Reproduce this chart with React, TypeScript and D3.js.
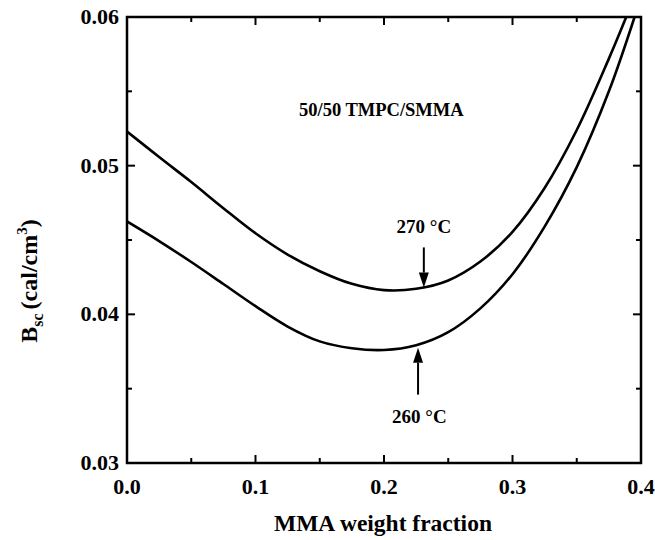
import React from "react";
import * as d3 from "d3";

const xFrac = [0, 0.025, 0.05, 0.075, 0.1, 0.125, 0.15, 0.175, 0.2, 0.225, 0.25, 0.275, 0.3, 0.325, 0.35, 0.375, 0.3885];
const b270 = [0.0523, 0.05058, 0.0489, 0.04714, 0.04545, 0.04402, 0.04290, 0.04205, 0.04163, 0.04172, 0.04228, 0.04355, 0.04555, 0.0485, 0.0524, 0.0572, 0.0600];
const xFracLow = [0, 0.025, 0.05, 0.075, 0.1, 0.125, 0.15, 0.175, 0.2, 0.225, 0.25, 0.275, 0.3, 0.325, 0.35, 0.375, 0.395];
const b260 = [0.04625, 0.04493, 0.04352, 0.04204, 0.04055, 0.03918, 0.03818, 0.03772, 0.0376, 0.03792, 0.03880, 0.0404, 0.0427, 0.0459, 0.0499, 0.0550, 0.0600];
const xTicks = [0, 0.1, 0.2, 0.3, 0.4];
const xMinor = [0.05, 0.15, 0.25, 0.35];
const yTicks = [0.03, 0.04, 0.05, 0.06];
const yMinor = [0.035, 0.045, 0.055];
const annotation = "50/50 TMPC/SMMA";
const arrowLabels = ["270 °C", "260 °C"];

const W = 655, H = 540;
const L = 127, R = 641, T = 17, B = 463;
const FONT = "'Liberation Serif', 'Times New Roman', serif";

export default function App() {
  const x = d3.scaleLinear().domain([0, 0.4]).range([L, R]);
  const y = d3.scaleLinear().domain([0.03, 0.06]).range([B, T]);
  const line = d3.line<[number, number]>().x(d => x(d[0])).y(d => y(d[1])).curve(d3.curveCatmullRom.alpha(0.5));
  const p270 = line(xFrac.map((v, i) => [v, b270[i]]) as [number, number][]) || "";
  const p260 = line(xFracLow.map((v, i) => [v, b260[i]]) as [number, number][]) || "";

  const arrow = (ax: number, tail: number, tip: number) => {
    const xt = x(ax), y1 = y(tail), y2 = y(tip);
    const dir = y2 > y1 ? 1 : -1;
    const hl = 15, hw = 5;
    return (
      <g>
        <line x1={xt} y1={y1} x2={xt} y2={y2 - dir * hl} stroke="#000" strokeWidth={2} />
        <path d={`M${xt},${y2} L${xt - hw},${y2 - dir * hl} L${xt + hw},${y2 - dir * hl} Z`} fill="#000" />
      </g>
    );
  };

  return (
    <svg width={W} height={H} style={{ position: "absolute", left: 0, top: 0, background: "#fff" }} fontFamily={FONT}>
      <rect x={0} y={0} width={W} height={H} fill="#fff" />
      <defs>
        <clipPath id="plotclip"><rect x={L} y={T} width={R - L} height={B - T} /></clipPath>
      </defs>
      {xTicks.map(t => (
        <g key={"xt" + t}>
          <line x1={x(t)} x2={x(t)} y1={B} y2={B - 8} stroke="#000" strokeWidth={2} />
          <line x1={x(t)} x2={x(t)} y1={T} y2={T + 8} stroke="#000" strokeWidth={2} />
          <text x={x(t)} y={494} textAnchor="middle" fontSize={22} fontWeight="bold">{d3.format(".1f")(t)}</text>
        </g>
      ))}
      {xMinor.map(t => (
        <g key={"xm" + t}>
          <line x1={x(t)} x2={x(t)} y1={B} y2={B - 5} stroke="#000" strokeWidth={2} />
          <line x1={x(t)} x2={x(t)} y1={T} y2={T + 5} stroke="#000" strokeWidth={2} />
        </g>
      ))}
      {yTicks.map(t => (
        <g key={"yt" + t}>
          <line x1={L} x2={L + 8} y1={y(t)} y2={y(t)} stroke="#000" strokeWidth={2} />
          <line x1={R} x2={R - 8} y1={y(t)} y2={y(t)} stroke="#000" strokeWidth={2} />
          <text x={119} y={y(t) + 7} textAnchor="end" fontSize={22} fontWeight="bold">{d3.format(".2f")(t)}</text>
        </g>
      ))}
      {yMinor.map(t => (
        <g key={"ym" + t}>
          <line x1={L} x2={L + 5} y1={y(t)} y2={y(t)} stroke="#000" strokeWidth={2} />
          <line x1={R} x2={R - 5} y1={y(t)} y2={y(t)} stroke="#000" strokeWidth={2} />
        </g>
      ))}
      <rect x={L} y={T} width={R - L} height={B - T} fill="none" stroke="#000" strokeWidth={2.5} />
      <g clipPath="url(#plotclip)">
        <path d={p270} fill="none" stroke="#000" strokeWidth={2.6} />
        <path d={p260} fill="none" stroke="#000" strokeWidth={2.6} />
      </g>
      {arrow(0.231, 0.0445, 0.0418)}
      {arrow(0.2265, 0.0346, 0.03775)}
      <text x={x(0.231)} y={y(0.0455)} textAnchor="middle" fontSize={19} fontWeight="bold">{arrowLabels[0]}</text>
      <text x={x(0.2275)} y={y(0.0327)} textAnchor="middle" fontSize={19} fontWeight="bold">{arrowLabels[1]}</text>
      <text x={299} y={116} fontSize={18.5} fontWeight="bold">{annotation}</text>
      <text x={383} y={531} textAnchor="middle" fontSize={23.5} fontWeight="bold">MMA weight fraction</text>
      <text transform={`translate(37, 281) rotate(-90)`} textAnchor="middle" fontSize={24} fontWeight="bold">
        <tspan>B</tspan>
        <tspan fontSize={16} dy={6}>sc</tspan>
        <tspan dy={-6} dx={4}>(cal/cm</tspan>
        <tspan fontSize={15} dy={-10}>3</tspan>
        <tspan dy={10}>)</tspan>
      </text>
    </svg>
  );
}
